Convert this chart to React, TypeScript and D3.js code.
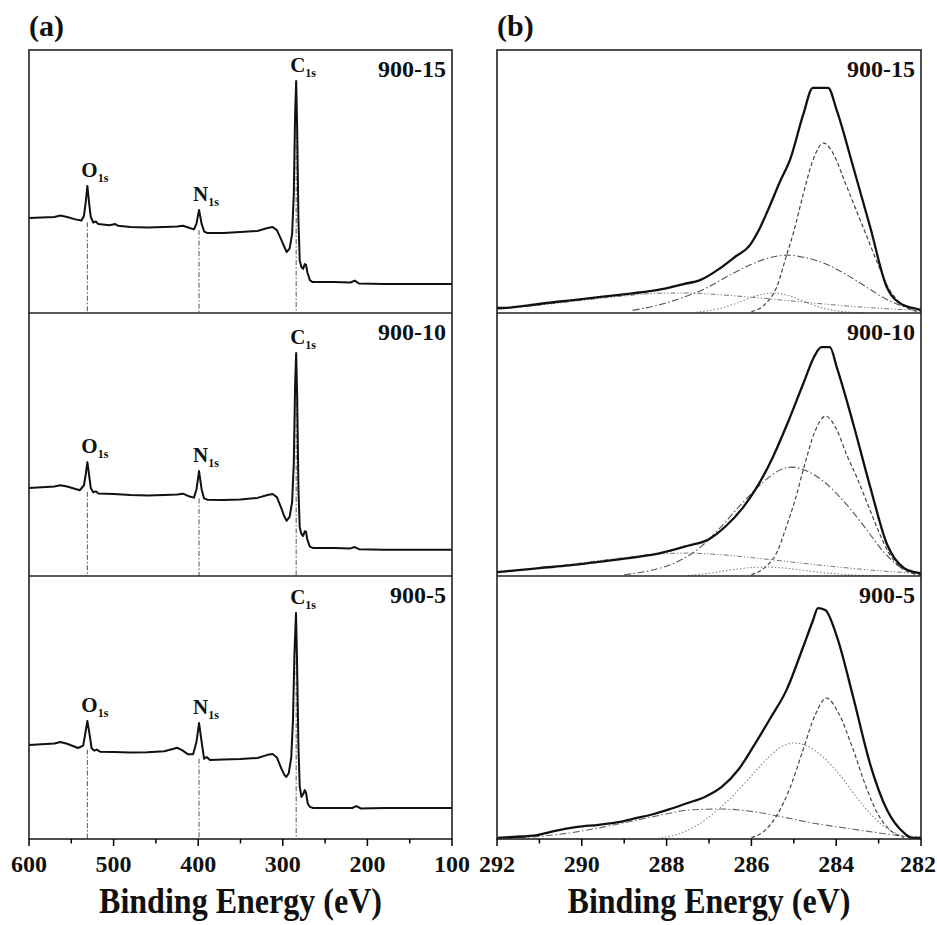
import React from "react";
import * as d3 from "d3";

type P = [number, number];

// ---------- Panel (a) survey spectra: [binding energy eV, intensity a.u.] ----------
const surveyLabels = ["900-15", "900-10", "900-5"];

const survey900_15: P[] = [
  [600, 36.1], [585, 36.3], [570, 36.5], [563, 37.1], [555, 36.5], [545, 35.6], [538, 35.2], [535, 37],
  [533, 42], [531, 48.3], [529, 42], [527, 36.5], [524, 34.4], [521, 34.8], [518, 33.8], [505, 33.4],
  [498, 33.8], [495, 33.2], [480, 32.7], [460, 32.5], [440, 32.7], [425, 32.9], [418, 33.2], [410, 32.3],
  [405, 31.8], [402, 34], [399, 39.2], [396, 34], [393, 31], [389, 30.4], [370, 30.4], [350, 30.8],
  [330, 31.2], [318, 32.3], [312, 32.7], [307, 31.5], [302, 28], [298, 25], [295.5, 23.2], [292, 24.5],
  [289, 30], [287, 45], [285.5, 75], [284.2, 88.2], [283, 70], [281.5, 35], [280, 20], [278, 17.5],
  [276, 16.8], [274, 18.6], [272.5, 18.3], [271, 15.5], [268, 12.5], [265, 11.8], [240, 11.8], [220, 11.6],
  [215, 12.3], [210, 11.2], [180, 11], [150, 11], [100, 11],
];

const survey900_10: P[] = [
  [600, 33.5], [585, 33.7], [570, 34], [563, 34.5], [555, 34], [540, 32.6], [535, 34.5], [533, 38.5],
  [531, 43.3], [529, 38.5], [527, 33.5], [524, 31.8], [521, 32.2], [518, 31.4], [500, 31.2], [480, 30.8],
  [460, 30.6], [440, 30.8], [425, 31], [418, 31.3], [410, 30.2], [405, 29.8], [402, 33], [399, 39.9],
  [396, 33], [393, 29.5], [389, 29], [370, 28.9], [350, 29.1], [330, 29.7], [318, 30.8], [312, 31.2],
  [307, 30], [302, 26], [298, 22.5], [295.5, 21], [292, 22.5], [289, 28], [287, 43], [285.5, 72],
  [284.2, 84.8], [283, 68], [281.5, 33], [280, 18.5], [278, 16], [276, 15.2], [274, 17], [272.5, 16.8],
  [271, 13.8], [268, 11.2], [264, 10.6], [240, 10.6], [220, 10.5], [215, 11], [210, 10.2], [180, 10],
  [100, 10],
];

const survey900_5: P[] = [
  [600, 35.7], [585, 36], [570, 36.3], [563, 36.9], [555, 36.2], [542, 34.6], [536, 35.5], [533.5, 40],
  [531, 44.9], [528.5, 40], [526, 34.5], [523, 33.6], [520, 34], [516, 33.2], [500, 33.1], [480, 32.9],
  [460, 33], [440, 33.4], [430, 34.2], [425, 34.7], [419, 33.8], [412, 32.2], [406, 32.2], [402, 37],
  [399, 44.1], [396, 37], [393, 30.5], [390, 31.2], [386, 30], [370, 30.2], [350, 30.4], [330, 30.8],
  [318, 32], [312, 32.3], [307, 31], [302, 27], [298, 24.3], [296, 23.6], [293, 25], [290, 31], [288, 45],
  [286.3, 70], [284.4, 85.9], [283.2, 68], [281.5, 35], [280, 20], [278, 16], [276, 17], [274, 18.6],
  [272.5, 17.5], [270.5, 13.5], [268, 12.2], [264, 11.8], [240, 11.8], [218, 11.8], [213, 12.5],
  [208, 11.6], [180, 11.8], [100, 11.8],
];

const surveys = [survey900_15, survey900_10, survey900_5];

// peak annotations: element, energy, label intensity, guide-line start intensity (per panel)
const peakNames = ["O", "N", "C"];
const peakEnergies = [531, 399, 284.2];
const peakTops = [
  [48.3, 39.2, 88.2],
  [43.3, 39.9, 84.8],
  [44.9, 44.1, 85.9],
];
const guideStarts = [
  [34.5, 31.5, 80],
  [32, 29.5, 78],
  [34, 30.5, 80],
];

const surveyTicksMajor = [600, 500, 400, 300, 200, 100];
const surveyTicksMinor = [550, 450, 350, 250, 150];

// ---------- Panel (b) C1s high resolution ----------
const env900_15: P[] = [
  [292, 1.9], [291.86, 1.9], [291.3, 2.8], [290.83, 3.8], [290.2, 4.9], [289.5, 6.2], [288.8, 7.5],
  [288.23, 8.7], [287.6, 11], [287.21, 12.5], [286.74, 17], [286.39, 21.3], [286.03, 25.9],
  [285.8, 32.3], [285.56, 41], [285.33, 49.8], [285.09, 58.2], [284.78, 75.3], [284.55, 85.6],
  [284.19, 85.6], [283.99, 77.2], [283.6, 55.6], [283.2, 32.8], [282.81, 10], [282.42, 3],
  [282.18, 1.9], [282, 1.1],
];
const dashed900_15: P[] = [
  [286.0, 0.5], [285.7, 3], [285.4, 10], [285.17, 22], [285.0, 31], [284.78, 45], [284.55, 58],
  [284.3, 64.6], [284.05, 60], [283.8, 50], [283.55, 40], [283.3, 30], [283.0, 18], [282.75, 9],
  [282.5, 4], [282.2, 1], [282.0, 0.5],
];
const dashdot900_15: P[] = [
  [288.8, 1], [288.2, 3], [287.6, 6], [287.0, 10], [286.5, 14.5], [286.0, 18.5], [285.5, 21.3],
  [285.15, 22], [284.8, 21.3], [284.3, 19], [283.8, 15], [283.3, 10], [282.9, 6], [282.5, 3], [282.1, 1.2],
];
const dotted900_15: P[] = [
  [287.3, 0.3], [286.8, 1.5], [286.3, 4], [285.9, 6.5], [285.5, 7.6], [285.1, 6.5], [284.7, 4],
  [284.3, 1.8], [283.8, 0.5], [283.3, 0.1],
];
const broad900_15: P[] = [
  [292, 1.5], [291, 3], [290, 4.8], [289, 6.5], [288.2, 7.5], [287.5, 7.6], [286.8, 7], [286, 6],
  [285, 4.5], [284, 3], [283, 1.8], [282, 1],
];

const env900_10: P[] = [
  [292, 1.5], [291.5, 2.2], [291, 3], [290.3, 4], [289.5, 5.6], [288.8, 7], [288.2, 8.5], [287.5, 11.5],
  [287.0, 14], [286.6, 19], [286.2, 26], [285.9, 33], [285.5, 45], [285.15, 58], [284.78, 73],
  [284.5, 84], [284.35, 87], [284.15, 87], [283.98, 79], [283.6, 58], [283.2, 34], [282.8, 12],
  [282.4, 3], [282.15, 1.5], [282, 1],
];
const dashed900_10: P[] = [
  [286.0, 0.5], [285.7, 3], [285.4, 9], [285.15, 20], [284.95, 30], [284.75, 42], [284.5, 55],
  [284.25, 60.8], [284.0, 56], [283.75, 46], [283.5, 37], [283.25, 27], [283.0, 17], [282.75, 8.5],
  [282.5, 3.5], [282.2, 1], [282.0, 0.4],
];
const dashdot900_10: P[] = [
  [289.0, 0.5], [288.4, 2], [287.8, 5], [287.2, 11], [286.7, 19], [286.2, 28], [285.7, 36],
  [285.3, 40.5], [285.05, 41.4], [284.7, 40], [284.3, 36], [283.8, 28], [283.3, 18], [282.9, 9.5],
  [282.5, 3.5], [282.1, 1],
];
const dotted900_10: P[] = [
  [287.5, 0.2], [287.0, 1], [286.5, 2.3], [286.0, 3.2], [285.6, 3.4], [285.2, 3], [284.7, 2],
  [284.2, 1.1], [283.6, 0.4], [283.0, 0.1],
];
const broad900_10: P[] = [
  [292, 1.2], [291, 3], [290, 5], [289, 7], [288.2, 8.4], [287.5, 8.7], [286.8, 8.2], [286, 7],
  [285, 5.2], [284, 3.5], [283, 2], [282, 1],
];

const env900_5: P[] = [
  [292, 0.4], [291.6, 0.8], [291.06, 1.5], [290.6, 3.2], [290.1, 4.6], [289.6, 5.4], [289.1, 6.5],
  [288.7, 8], [288.3, 9.5], [287.9, 11.5], [287.5, 13.7], [287.1, 16], [286.7, 19.8], [286.3, 26.5],
  [285.96, 35], [285.55, 46], [285.17, 56.7], [284.78, 73], [284.55, 83], [284.43, 87.8],
  [284.26, 87.1], [283.98, 76.8], [283.6, 54], [283.2, 28.5], [282.8, 11], [282.4, 2.3], [282.2, 0.4],
  [282, 0.4],
];
const dashed900_5: P[] = [
  [286.0, 0.5], [285.7, 3], [285.4, 9], [285.1, 19], [284.8, 33], [284.5, 47], [284.23, 53.6],
  [283.95, 48], [283.6, 34], [283.3, 20], [283.0, 9], [282.7, 3], [282.4, 0.6],
];
const dotted900_5: P[] = [
  [288.2, 0.3], [287.8, 1.5], [287.3, 5], [286.8, 11], [286.4, 17], [286.0, 24], [285.6, 31],
  [285.3, 35], [285.0, 36.5], [284.7, 35.5], [284.3, 31], [283.9, 24], [283.5, 15.5], [283.1, 8],
  [282.7, 3], [282.4, 1], [282.1, 0.3],
];
const dashdot900_5: P[] = [
  [291.8, 0.3], [291, 1], [290.3, 2.3], [289.5, 4.5], [288.7, 7.2], [288, 9.5], [287.5, 11],
  [286.7, 11.4], [286, 10.5], [285.3, 8.5], [284.6, 6.2], [284, 4.7], [283.2, 2.8], [282.5, 1.3],
  [282, 0.8],
];

const c1sTicksMajor = [292, 290, 288, 286, 284, 282];
const c1sTicksMinor = [291, 289, 287, 285, 283];

type Comp = { data: P[]; dash: string; color: string; width: number };

const DASH = "4,2.5";
const DASHDOT = "7,2.5,1.5,2.5";
const DOT = "1.5,2";
const DASHDOTDOT = "5,2,1.2,2,1.2,2";

const c1sPanels: { env: P[]; comps: Comp[] }[] = [
  {
    env: env900_15,
    comps: [
      { data: broad900_15, dash: DASHDOTDOT, color: "#777", width: 1 },
      { data: dotted900_15, dash: DOT, color: "#888", width: 1.1 },
      { data: dashdot900_15, dash: DASHDOT, color: "#555", width: 1.1 },
      { data: dashed900_15, dash: DASH, color: "#444", width: 1.2 },
    ],
  },
  {
    env: env900_10,
    comps: [
      { data: broad900_10, dash: DASHDOTDOT, color: "#777", width: 1 },
      { data: dotted900_10, dash: DOT, color: "#888", width: 1.1 },
      { data: dashdot900_10, dash: DASHDOT, color: "#555", width: 1.1 },
      { data: dashed900_10, dash: DASH, color: "#444", width: 1.2 },
    ],
  },
  {
    env: env900_5,
    comps: [
      { data: dashdot900_5, dash: DASHDOT, color: "#666", width: 1.1 },
      { data: dotted900_5, dash: DOT, color: "#888", width: 1.1 },
      { data: dashed900_5, dash: DASH, color: "#444", width: 1.2 },
    ],
  },
];

// ---------- layout ----------
const W = 937;
const H = 925;
const TOP = 50;
const PH = 263;
const A_X0 = 29, A_X1 = 452;
const B_X0 = 497, B_X1 = 921;
const BOTTOM = TOP + 3 * PH;
const FONT = "'Liberation Serif', 'Times New Roman', serif";

export default function App() {
  const xA = d3.scaleLinear().domain([600, 100]).range([A_X0, A_X1]);
  const xB = d3.scaleLinear().domain([292, 282]).range([B_X0, B_X1]);
  const yFor = (i: number) => d3.scaleLinear().domain([0, 100]).range([TOP + (i + 1) * PH, TOP + i * PH]);

  const surveyPaths = surveys.map((s, i) => {
    const y = yFor(i);
    return d3.line<P>().x((d) => xA(d[0])).y((d) => y(d[1])).curve(d3.curveLinear)(s) || "";
  });

  const axisTicks = (
    x: d3.ScaleLinear<number, number>,
    major: number[],
    minor: number[],
    key: string
  ) => (
    <g key={key}>
      {major.map((t) => (
        <g key={"M" + t}>
          <line x1={x(t)} x2={x(t)} y1={BOTTOM} y2={BOTTOM + 7} stroke="#000" strokeWidth={1.5} />
          <text
            x={Math.min(x(t), W - 19)}
            y={BOTTOM + 33}
            textAnchor="middle"
            fontFamily={FONT}
            fontWeight="bold"
            fontSize={24}
            fill="#111"
          >
            {t}
          </text>
        </g>
      ))}
      {minor.map((t) => (
        <line key={"m" + t} x1={x(t)} x2={x(t)} y1={BOTTOM} y2={BOTTOM + 4.5} stroke="#000" strokeWidth={1.5} />
      ))}
    </g>
  );

  const title = (cx: number, key: string) => (
    <g key={key} transform={`translate(${cx},913) scale(0.89,1)`}>
      <text x={0} y={0} textAnchor="middle" fontFamily={FONT} fontWeight="bold" fontSize={36} fill="#111">
        Binding Energy (eV)
      </text>
    </g>
  );

  return (
    <svg
      width={W}
      height={H}
      viewBox={`0 0 ${W} ${H}`}
      style={{ display: "block", background: "#fff", position: "absolute", left: 0, top: 0 }}
    >
      <rect x={0} y={0} width={W} height={H} fill="#fff" />
      {/* panel letters */}
      <text x={A_X0} y={36} fontFamily={FONT} fontWeight="bold" fontSize={30} fill="#111">(a)</text>
      <text x={B_X0} y={36} fontFamily={FONT} fontWeight="bold" fontSize={30} fill="#111">(b)</text>

      {/* ---------- panel (a) ---------- */}
      {surveys.map((s, i) => {
        const y = yFor(i);
        return (
          <g key={"a" + i}>
            {peakEnergies.map((e, k) => (
              <line
                key={"g" + k}
                x1={xA(e)}
                x2={xA(e)}
                y1={y(guideStarts[i][k])}
                y2={TOP + (i + 1) * PH}
                stroke="#555"
                strokeWidth={1}
                strokeDasharray="5,2,1.5,2"
              />
            ))}
            <path d={surveyPaths[i]} fill="none" stroke="#111" strokeWidth={2} strokeLinejoin="round" />
            {peakNames.map((n, k) => (
              <text
                key={"p" + k}
                x={xA(peakEnergies[k]) - 6}
                y={y(peakTops[i][k]) - 9}
                fontFamily={FONT}
                fontWeight="bold"
                fontSize={21}
                fill="#111"
              >
                {n}
                <tspan fontSize={12} dy={5}>1s</tspan>
              </text>
            ))}
            <text
              x={A_X1 - 6}
              y={TOP + i * PH + 27}
              textAnchor="end"
              fontFamily={FONT}
              fontWeight="bold"
              fontSize={24}
              fill="#111"
            >
              {surveyLabels[i]}
            </text>
          </g>
        );
      })}

      {/* ---------- panel (b) ---------- */}
      {c1sPanels.map((p, i) => {
        const y = yFor(i);
        const ln = d3.line<P>().x((d) => xB(d[0])).y((d) => y(d[1])).curve(d3.curveMonotoneX);
        return (
          <g key={"b" + i}>
            {p.comps.map((c, k) => (
              <path
                key={"c" + k}
                d={ln(c.data) || ""}
                fill="none"
                stroke={c.color}
                strokeWidth={c.width}
                strokeDasharray={c.dash}
              />
            ))}
            <path d={ln(p.env) || ""} fill="none" stroke="#111" strokeWidth={2.3} strokeLinejoin="round" />
            <text
              x={B_X1 - 6}
              y={TOP + i * PH + 27}
              textAnchor="end"
              fontFamily={FONT}
              fontWeight="bold"
              fontSize={24}
              fill="#111"
            >
              {surveyLabels[i]}
            </text>
          </g>
        );
      })}

      {/* frames */}
      {[[A_X0, A_X1], [B_X0, B_X1]].map(([x0, x1], j) => (
        <g key={"f" + j}>
          <rect x={x0} y={TOP} width={x1 - x0} height={3 * PH} fill="none" stroke="#222" strokeWidth={1.6} />
          {[1, 2].map((k) => (
            <line key={k} x1={x0} x2={x1} y1={TOP + k * PH} y2={TOP + k * PH} stroke="#222" strokeWidth={1.6} />
          ))}
        </g>
      ))}

      {axisTicks(xA, surveyTicksMajor, surveyTicksMinor, "ta")}
      {axisTicks(xB, c1sTicksMajor, c1sTicksMinor, "tb")}

      {/* axis titles */}
      {title((A_X0 + A_X1) / 2, "t1")}
      {title((B_X0 + B_X1) / 2, "t2")}
    </svg>
  );
}
